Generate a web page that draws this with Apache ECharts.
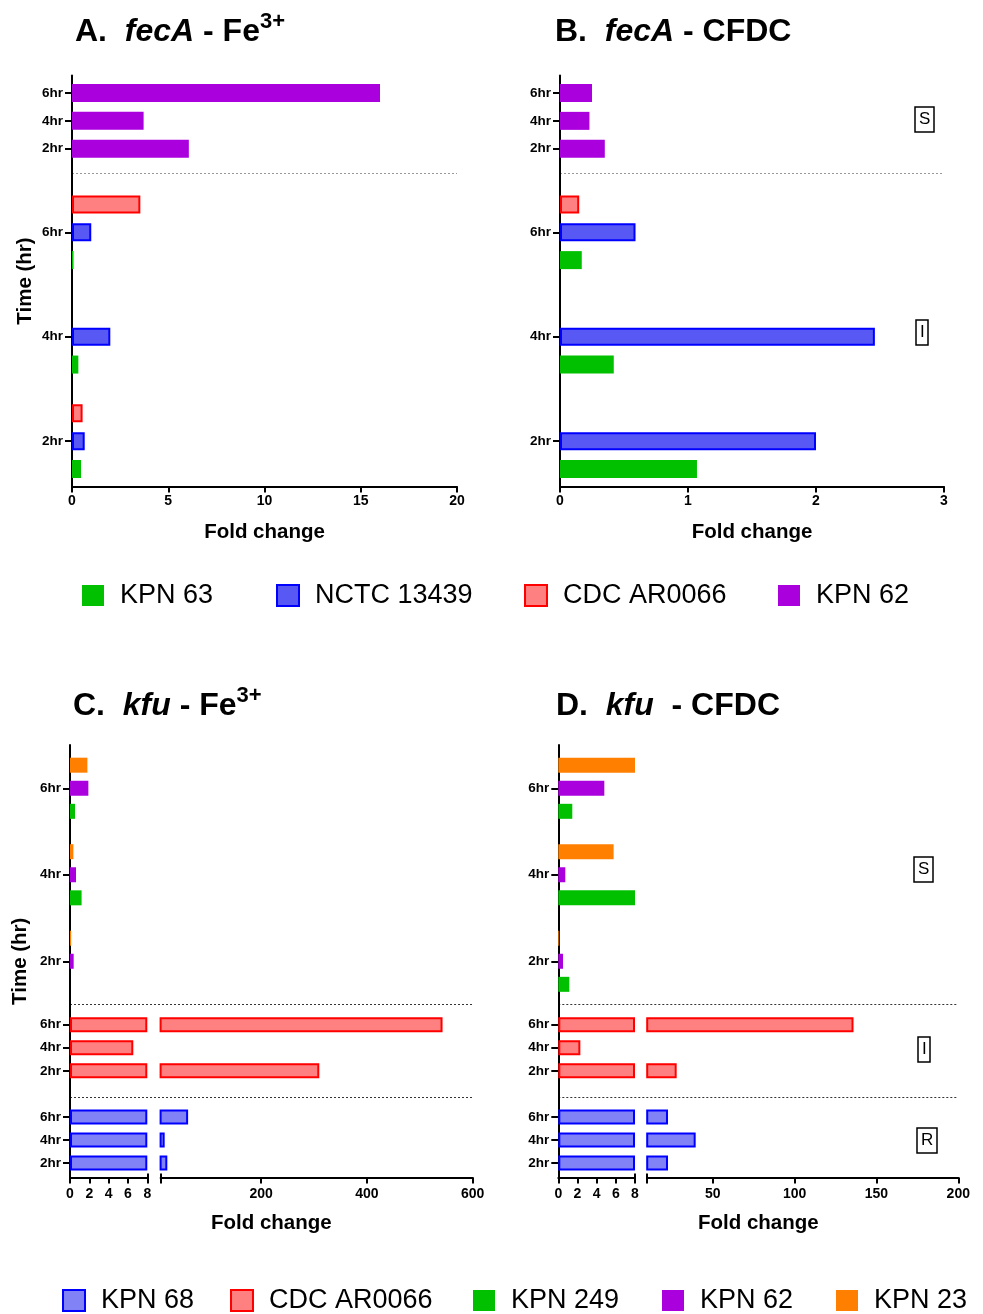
<!DOCTYPE html>
<html><head><meta charset="utf-8">
<script src="https://cdn.jsdelivr.net/npm/echarts@6/dist/echarts.min.js"></script>
<style>html,body{margin:0;padding:0;background:#fff}#c{width:983px;height:1314px}</style>
</head><body><div id="c"></div>
<script>
// ---------------- data ----------------
const timeLabels = ['6hr', '4hr', '2hr'];

const xTicksA = [0, 5, 10, 15, 20];
const xTicksB = [0, 1, 2, 3];
const xTicksLow = [0, 2, 4, 6, 8];
const xTicksHighC = [200, 400, 600];
const xTicksHighD = [50, 100, 150, 200];

const legendTop = ['KPN 63', 'NCTC 13439', 'CDC AR0066', 'KPN 62'];
const legendBottom = ['KPN 68', 'CDC AR0066', 'KPN 249', 'KPN 62', 'KPN 23'];

// Panel A: fecA - Fe3+   (values ordered 6hr, 4hr, 2hr)
const A_KPN62 = [16.0, 3.72, 6.07];
const A_CDC   = [3.55, null, 0.55];
const A_NCTC  = [1.0, 1.99, 0.66];
const A_KPN63 = [0.08, 0.33, 0.47];

// Panel B: fecA - CFDC
const B_KPN62 = [0.25, 0.23, 0.35];
const B_CDC   = [0.15, null, null];
const B_NCTC  = [0.59, 2.46, 2.0];
const B_KPN63 = [0.17, 0.42, 1.07];

// Panel C: kfu - Fe3+
const C_KPN23  = [1.8, 0.35, 0.12];
const C_KPN62  = [1.9, 0.62, 0.38];
const C_KPN249 = [0.52, 1.2, null];
const C_CDC    = [543, 6.55, 310];
const C_KPN68  = [62, 17.7, 22.7];

// Panel D: kfu - CFDC
const D_KPN23  = [8.0, 5.77, 0.1];
const D_KPN62  = [4.8, 0.73, 0.49];
const D_KPN249 = [1.46, 8.0, 1.15];
const D_CDC    = [136, 2.3, 28];
const D_KPN68  = [22.7, 39.6, 22.7];

// ---------------- layout / style ----------------
const FONT = "'Liberation Sans', Arial, sans-serif";
const BREAK_LOW = 8, BREAK_HIGH = 10;

const fecLayout = {
  top: 75.6, unit: 6.963, n: 59, seps: [0, 14],
  slots: { 'KPN 62': [2, 6, 10], 'CDC AR0066': [18, 33, 48], 'NCTC 13439': [22, 37, 52], 'KPN 63': [26, 41, 56] },
  labelled: ['KPN 62', 'NCTC 13439'], sepColor: '#999'
};
const kfuLayout = {
  top: 745, unit: 5.767, n: 75, seps: [0, 45, 61],
  slots: { 'KPN 23': [3, 18, 33], 'KPN 62': [7, 22, 37], 'KPN 249': [11, 26, 41], 'CDC AR0066': [48, 52, 56], 'KPN 68': [64, 68, 72] },
  labelled: ['KPN 62', 'CDC AR0066', 'KPN 68'], sepColor: '#333'
};

const STY = {
  'KPN 63':     { color: '#00c000' },
  'KPN 249':    { color: '#00c000' },
  'KPN 62':     { color: '#aa00dd' },
  'KPN 23':     { color: '#ff8000' },
  'NCTC 13439': { color: '#5858f5', borderColor: '#0000ff', borderWidth: 2 },
  'KPN 68':     { color: '#8282f7', borderColor: '#0000ff', borderWidth: 2 },
  'CDC AR0066': { color: '#ff8080', borderColor: '#ff0000', borderWidth: 2 }
};

function categories(L) {
  const arr = new Array(L.n).fill('');
  L.labelled.forEach(name => L.slots[name].forEach((s, i) => { arr[s] = timeLabels[i]; }));
  return arr;
}
function tickSet(L) {
  const s = new Set();
  L.labelled.forEach(name => L.slots[name].forEach(v => s.add(v)));
  return s;
}
function slotData(L, name, values, fn) {
  const arr = new Array(L.n).fill(null);
  values.forEach((v, i) => { arr[L.slots[name][i]] = (v == null) ? null : fn(v); });
  return arr;
}

const boldText = { fontFamily: FONT, fontWeight: 'bold', color: '#000' };

function catAxis(gridIndex, L, visible, extra) {
  const ts = tickSet(L), ss = new Set(L.seps);
  return Object.assign({
    type: 'category', gridIndex, data: categories(L), inverse: true, show: visible,
    axisLine: { show: true, onZero: false, lineStyle: { color: '#000', width: 2 } },
    axisTick: { show: true, interval: (i) => ts.has(i), alignWithLabel: true, length: 7, lineStyle: { color: '#000', width: 2 } },
    axisLabel: Object.assign({ interval: 0, fontSize: 13.5, margin: 9 }, boldText),
    splitLine: { show: true, showMinLine: false, showMaxLine: false, interval: (i) => ss.has(i),
      lineStyle: { color: L.sepColor, type: [2, 2], width: 1 } }
  }, extra || {});
}
function valAxis(gridIndex, min, max, ticks, extra, tickExtra, margin) {
  return Object.assign({
    type: 'value', gridIndex, min, max,
    axisLine: { show: true, onZero: false, lineStyle: { color: '#000', width: 2 } },
    axisTick: { show: true, length: 6, lineStyle: { color: '#000', width: 2 }, customValues: tickExtra || ticks },
    axisLabel: Object.assign({ fontSize: 14, margin: margin || 8, customValues: ticks }, boldText),
    splitLine: { show: false }
  }, extra || {});
}
// upward half of the break caps at the axis break
function capAxis(gridIndex, min, max, at) {
  return { type: 'value', gridIndex, min, max, position: 'bottom',
    axisLine: { show: false, onZero: false }, axisLabel: { show: false }, splitLine: { show: false },
    axisTick: { show: true, inside: true, length: 4, customValues: [at], lineStyle: { color: '#000', width: 2 } } };
}
const xName = { name: 'Fold change', nameLocation: 'middle', nameGap: 35, nameTextStyle: Object.assign({ fontSize: 20.5 }, boldText) };
const yName = (gap) => ({ name: 'Time (hr)', nameLocation: 'middle', nameGap: gap, nameTextStyle: Object.assign({ fontSize: 20.5 }, boldText) });

const fecH = fecLayout.n * fecLayout.unit, kfuH = kfuLayout.n * kfuLayout.unit;
const grids = [
  { left: 72,    top: fecLayout.top, width: 385,   height: fecH },  // 0 A
  { left: 560,   top: fecLayout.top, width: 384,   height: fecH },  // 1 B
  { left: 70,    top: kfuLayout.top, width: 402.7, height: kfuH },  // 2 C frame
  { left: 70,    top: kfuLayout.top, width: 77.3,  height: kfuH },  // 3 C low
  { left: 160.6, top: kfuLayout.top, width: 312.1, height: kfuH },  // 4 C high
  { left: 558.3, top: kfuLayout.top, width: 400,   height: kfuH },  // 5 D frame
  { left: 558.3, top: kfuLayout.top, width: 76.7,  height: kfuH },  // 6 D low
  { left: 647.2, top: kfuLayout.top, width: 311.1, height: kfuH }   // 7 D high
];

const yAxes = [
  catAxis(0, fecLayout, true, yName(36)),
  catAxis(1, fecLayout, true),
  catAxis(2, kfuLayout, true, yName(39)),
  catAxis(3, kfuLayout, false),
  catAxis(4, kfuLayout, false),
  catAxis(5, kfuLayout, true),
  catAxis(6, kfuLayout, false),
  catAxis(7, kfuLayout, false)
];
const hiddenFrameX = (g) => Object.assign({ type: 'value', gridIndex: g, min: 0, max: 1,
  axisLine: { show: false }, axisTick: { show: false }, axisLabel: { show: false }, splitLine: { show: false } }, xName);
const xAxes = [
  valAxis(0, 0, 20, xTicksA, xName),
  valAxis(1, 0, 3, xTicksB, xName),
  hiddenFrameX(2),
  valAxis(3, 0, BREAK_LOW, xTicksLow, null, null, 10),
  valAxis(4, BREAK_HIGH, 600, xTicksHighC, null, [BREAK_HIGH].concat(xTicksHighC), 10),
  hiddenFrameX(5),
  valAxis(6, 0, BREAK_LOW, xTicksLow, null, null, 10),
  valAxis(7, BREAK_HIGH, 200, xTicksHighD, null, [BREAK_HIGH].concat(xTicksHighD), 10),
  capAxis(3, 0, BREAK_LOW, BREAK_LOW),
  capAxis(4, BREAK_HIGH, 600, BREAK_HIGH),
  capAxis(6, 0, BREAK_LOW, BREAK_LOW),
  capAxis(7, BREAK_HIGH, 200, BREAK_HIGH)
];

function bar(name, axisIdx, data, width) {
  return { type: 'bar', name, xAxisIndex: axisIdx, yAxisIndex: axisIdx, data, barWidth: width, barGap: '-100%',
    clip: true, silent: true, itemStyle: STY[name] };
}
const ident = v => v;
const low = v => Math.min(v, BREAK_LOW);
const high = v => (v > BREAK_HIGH ? v : null);

const series = [];
[['KPN 63', A_KPN63], ['NCTC 13439', A_NCTC], ['CDC AR0066', A_CDC], ['KPN 62', A_KPN62]].forEach(([n, v]) =>
  series.push(bar(n, 0, slotData(fecLayout, n, v, ident), 18)));
[['KPN 63', B_KPN63], ['NCTC 13439', B_NCTC], ['CDC AR0066', B_CDC], ['KPN 62', B_KPN62]].forEach(([n, v]) =>
  series.push(bar(n, 1, slotData(fecLayout, n, v, ident), 18)));
[['KPN 68', C_KPN68], ['CDC AR0066', C_CDC], ['KPN 249', C_KPN249], ['KPN 62', C_KPN62], ['KPN 23', C_KPN23]].forEach(([n, v]) => {
  series.push(bar(n, 3, slotData(kfuLayout, n, v, low), 15));
  series.push(bar(n, 4, slotData(kfuLayout, n, v, high), 15));
});
[['KPN 68', D_KPN68], ['CDC AR0066', D_CDC], ['KPN 249', D_KPN249], ['KPN 62', D_KPN62], ['KPN 23', D_KPN23]].forEach(([n, v]) => {
  series.push(bar(n, 6, slotData(kfuLayout, n, v, low), 15));
  series.push(bar(n, 7, slotData(kfuLayout, n, v, high), 15));
});

const titleRich = {
  b: { fontFamily: FONT, fontWeight: 'bold', fontSize: 32, color: '#000', lineHeight: 38, verticalAlign: 'bottom' },
  i: { fontFamily: FONT, fontWeight: 'bold', fontStyle: 'italic', fontSize: 32, color: '#000', lineHeight: 38, verticalAlign: 'bottom' },
  s: { fontFamily: FONT, fontWeight: 'bold', fontSize: 22, color: '#000', lineHeight: 22, verticalAlign: 'bottom', padding: [0, 0, 15, 0] }
};
function panelTitle(text, left, top) {
  return { text, left, top, padding: 0, textStyle: { rich: titleRich } };
}
function boxLabel(text, left, top) {
  return { text, left, top, padding: [4, 4], borderColor: '#000', borderWidth: 1.5,
    textStyle: { fontFamily: FONT, fontWeight: 'normal', fontSize: 17, color: '#000' } };
}

function legendItem(name, left, top) {
  return { data: [name], left, top, padding: 0, icon: 'rect', itemWidth: 22, itemHeight: 21, selectedMode: false,
    textStyle: { fontFamily: FONT, fontSize: 27, color: '#000', padding: [0, 0, 0, 11] } };
}
const legendTopLefts = [82, 276, 524, 778];
const legendBottomLefts = [62, 230, 473, 662, 836];

const option = {
  animation: false,
  backgroundColor: '#fff',
  title: [
    panelTitle('{b|A.  }{i|fecA}{b| - Fe}{s|3+}', 75, 10),
    panelTitle('{b|B.  }{i|fecA}{b| - CFDC}', 555, 10),
    panelTitle('{b|C.  }{i|kfu}{b| - Fe}{s|3+}', 73, 684),
    panelTitle('{b|D.  }{i|kfu}{b|  - CFDC}', 556, 684),
    boxLabel('S', 915, 107),
    boxLabel('I', 916, 320),
    boxLabel('S', 914, 857),
    boxLabel('I', 918, 1037),
    boxLabel('R', 917, 1128)
  ],
  legend: legendTop.map((n, i) => legendItem(n, legendTopLefts[i], 582))
    .concat(legendBottom.map((n, i) => legendItem(n, legendBottomLefts[i], 1287))),
  grid: grids,
  xAxis: xAxes,
  yAxis: yAxes,
  series
};

const chart = echarts.init(document.getElementById('c'), null, { renderer: 'canvas' });
chart.setOption(option);
</script>
</body></html>
